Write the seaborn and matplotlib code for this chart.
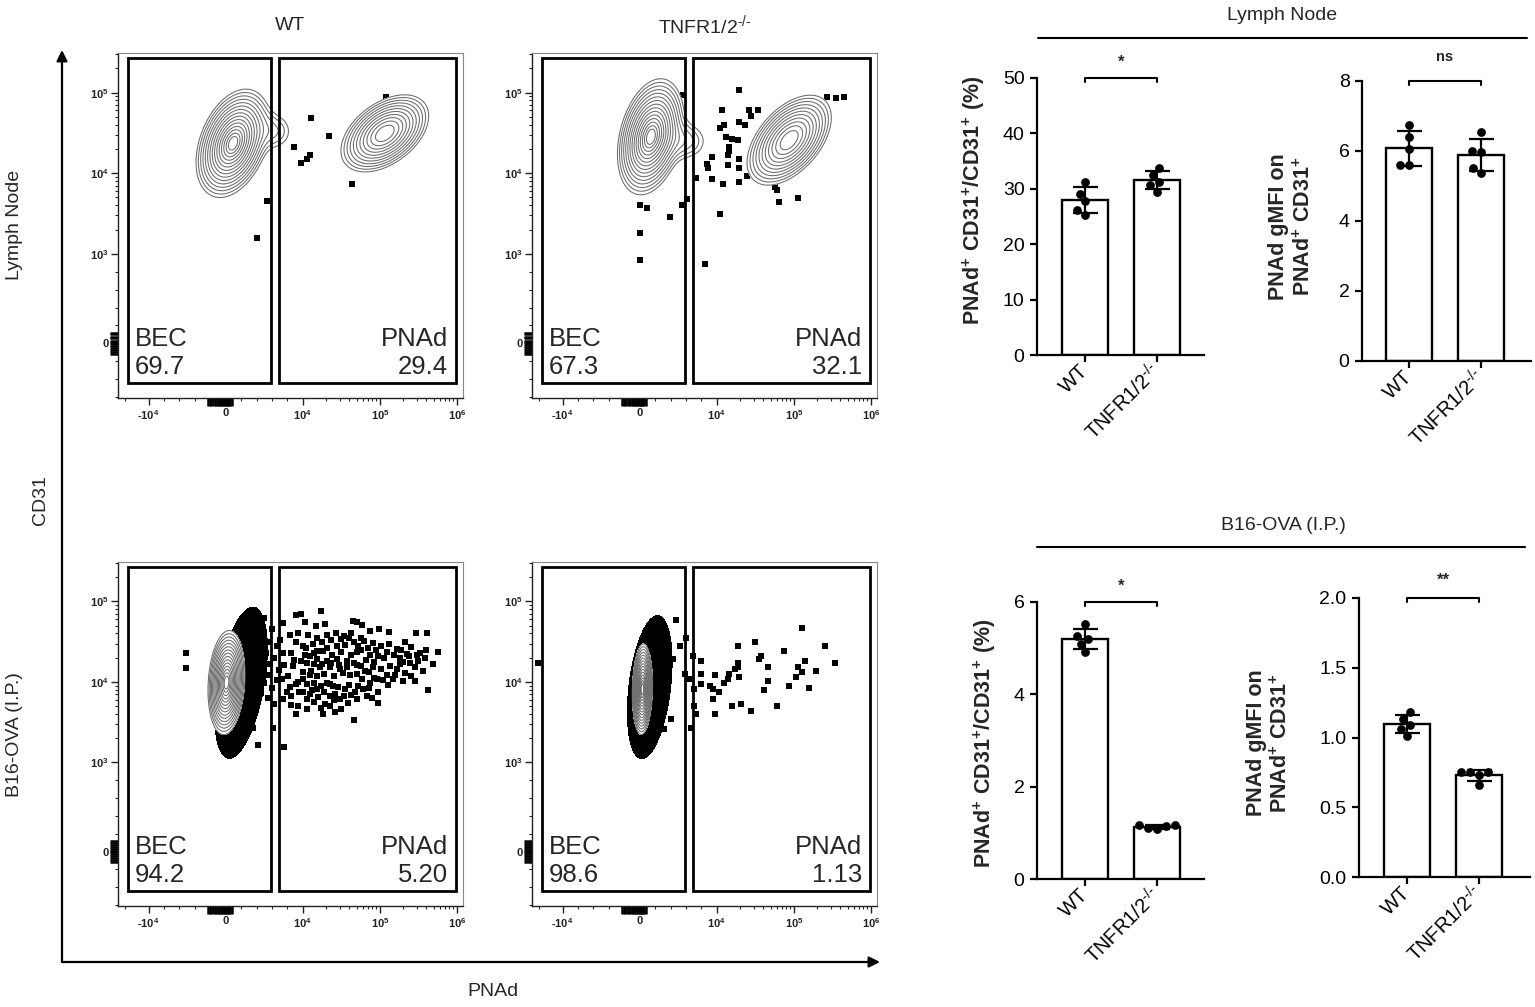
import numpy as np
import pandas as pd
import matplotlib
matplotlib.use("Agg")
import matplotlib.pyplot as plt
import seaborn as sns
from matplotlib.scale import SymmetricalLogTransform
from matplotlib.patches import Rectangle, FancyArrowPatch
from matplotlib.lines import Line2D
from matplotlib.ticker import FixedLocator

sns.set_theme(style="ticks")
plt.rcParams["font.family"] = ["Liberation Sans", "DejaVu Sans"]
plt.rcParams["mathtext.fontset"] = "custom"
plt.rcParams["mathtext.rm"] = "Liberation Sans"
plt.rcParams["mathtext.it"] = "Liberation Sans:italic"
plt.rcParams["mathtext.bf"] = "Liberation Sans:bold"
plt.rcParams["axes.unicode_minus"] = False

# ---------------------------------------------------------------- data
groups = ["WT", "TNFR1/2-/-"]
group_labels = ["WT", r"TNFR1/2$^{\text{-/-}}$"]

# bar charts (5 mice per group)
ln_pct_wt = [31.3, 29.1, 27.8, 26.2, 25.3]
ln_pct_ko = [33.7, 32.5, 31.3, 29.5, 30.6]
ln_mfi_wt = [6.75, 6.40, 6.05, 5.60, 5.60]
ln_mfi_ko = [6.55, 6.00, 5.97, 5.50, 5.38]
b16_pct_wt = [5.53, 5.26, 5.20, 5.09, 4.92]
b16_pct_ko = [1.10, 1.16, 1.15, 1.16, 1.08]
b16_mfi_wt = [1.18, 1.135, 1.09, 1.06, 1.01]
b16_mfi_ko = [0.75, 0.75, 0.75, 0.73, 0.66]

# gate percentages
ln_wt_gate = ["69.7", "29.4"]
ln_ko_gate = ["67.3", "32.1"]
b16_wt_gate = ["94.2", "5.20"]
b16_ko_gate = ["98.6", "1.13"]

# gates (PNAd range, CD31 range)
gate_bec_x = [-1.87e4, 5840]
gate_pnad_x = [6880, 9.7e5]
gate_y = [-447, 2.69e5]

# contour populations: (PNAd centre, CD31 centre, sd_x [decades], sd_y [decades], rho, weight)
ln_wt_pops = [(950, 2.35e4, 0.20, 0.28, 0.35, 1.00),
              (1.16e5, 3.12e4, 0.25, 0.21, 0.45, 0.75),
              (6500, 3.3e4, 0.15, 0.15, 0.0, 0.10)]
ln_ko_pops = [(1430, 2.83e4, 0.18, 0.30, 0.30, 1.00),
              (8.7e4, 2.57e4, 0.24, 0.245, 0.50, 0.75),
              (6000, 2.5e4, 0.18, 0.15, 0.0, 0.12)]
b16_wt_pops = [(100, 9.8e3, 0.10, 0.27, 0.15, 1.00)]
b16_ko_pops = [(350, 8.1e3, 0.055, 0.235, 0.10, 1.00)]
# dense outlier cloud around the contours: (PNAd, CD31, sd_x, sd_y, rho)
b16_wt_blob = (2000, 9.75e3, 0.17, 0.47, 0.45)
b16_ko_blob = (1300, 8.6e3, 0.145, 0.445, 0.35)

# outlier events, log10 intensities
ln_wt_pnad_log = [4.11, 4.34, 3.95, 3.99, 4.05, 4.09, 4.64, 5.08, 3.73, 3.61]
ln_wt_cd31_log = [4.69, 4.46, 4.32, 4.13, 4.18, 4.22, 3.86, 4.95, 3.66, 3.19]

ln_ko_pnad_log = [3.74, 4.07, 4.29, 4.04, 4.10, 4.12, 4.20, 4.16, 4.16, 4.15,
                  4.14, 4.29, 4.36, 4.42, 4.44, 4.53, 3.97, 3.94, 3.95, 3.97,
                  3.86, 4.08, 4.29, 4.29, 4.29, 4.39, 4.04, 3.93, 3.79, 3.74,
                  3.60, 2.98, 2.00, 2.00, 1.94, 4.75, 4.78, 4.81, 5.06, 5.43,
                  5.55, 5.65, 4.27]
ln_ko_cd31_log = [4.97, 4.78, 5.03, 4.56, 4.60, 4.45, 4.43, 4.33, 4.27, 4.22,
                  4.10, 4.64, 4.60, 4.78, 4.71, 4.78, 4.20, 4.11, 4.07, 3.93,
                  3.94, 3.86, 3.89, 4.06, 4.18, 3.96, 3.49, 2.95, 3.68, 3.61,
                  3.46, 3.57, 3.61, 3.26, 2.97, 3.83, 3.79, 3.64, 3.69, 4.94,
                  4.93, 4.94, 4.41]

b16_wt_pnad_log = [4.23, 3.96, 3.99, 4.03, 3.87, 4.17, 4.29, 4.65, 4.71, 4.77,
                   4.87, 4.99, 5.12, 5.47, 5.61, 3.92, 3.97, 4.07, 4.19, 4.31,
                   4.43, 4.53, 4.63, 4.76, 3.85, 3.96, 4.04, 4.19, 4.31, 4.44,
                   4.55, 4.66, 4.79, 4.91, 5.02, 5.22, 5.33, 5.41, 5.09, 5.76,
                   3.87, 4.09, 4.76, 4.87, 4.98, 5.48, 5.58, 3.88, 3.94, 3.99,
                   4.18, 4.31, 4.44, 4.57, 4.70, 4.91, 5.02, 5.13, 5.26, 5.39,
                   5.69, 5.35, 5.26, 4.11, 4.22, 4.35, 4.48, 4.61, 4.81, 5.22,
                   5.33, 5.46, 5.56, 3.91, 4.00, 3.96, 3.92, 4.31, 4.39, 4.87,
                   4.96, 5.09, 5.17, 5.30, 5.46, 3.86, 4.09, 4.18, 4.55, 4.68,
                   4.78, 4.83, 4.98, 5.63, 3.90, 3.87, 3.93, 3.98, 4.05, 4.20,
                   4.35, 4.48, 4.59, 4.70, 4.98, 4.35, 4.29, 3.97, 3.93, 4.50,
                   4.42, 4.26, 4.05, 3.96, 4.66, 3.79, 3.88, 3.55, 3.62,
                   4.00, 4.13, 4.25, 4.37, 4.49, 4.60, 4.72, 4.84, 4.95, 5.06,
                   3.93, 4.03, 4.14, 4.26, 4.38, 4.50, 4.62, 4.70, 4.82, 4.93,
                   3.95, 4.06, 4.15, 4.25, 4.36, 4.47, 4.58, 4.66, 4.76, 4.86,
                   4.00, 4.09, 4.19, 4.28, 4.40, 4.52, 4.70, 4.77, 4.92, 5.04,
                   3.97, 4.06, 4.14, 4.24, 4.35, 4.46, 4.60, 4.72, 4.86, 5.10,
                   4.00, 4.12, 4.27, 4.42, 4.53, 4.63, 4.90, 4.14, 4.40, 4.23,
                   5.18, 5.28, 5.38, 5.50, 5.20, 5.40, 5.52, 5.12, 5.30, 5.60,
                   3.62, 3.70, 3.78, 3.66, 3.74, 3.82, 3.64, 3.72, 3.80, 3.68,
                   3.76, 3.84, 3.66, 3.74, 3.82, 3.70, 3.78, 3.66, 3.74, 3.80,
                   3.58, 3.70]
b16_wt_cd31_log = [4.88, 4.83, 4.85, 4.75, 4.73, 4.69, 4.72, 4.76, 4.74, 4.71,
                   4.63, 4.66, 4.62, 4.61, 4.61, 4.58, 4.61, 4.58, 4.54, 4.58,
                   4.61, 4.57, 4.61, 4.54, 4.52, 4.49, 4.42, 4.39, 4.42, 4.44,
                   4.46, 4.49, 4.51, 4.48, 4.45, 4.41, 4.49, 4.43, 4.37, 4.37,
                   4.36, 4.32, 4.40, 4.34, 4.32, 4.33, 4.30, 4.21, 4.20, 4.26,
                   4.28, 4.26, 4.28, 4.26, 4.21, 4.18, 4.16, 4.20, 4.22, 4.24,
                   4.22, 4.35, 4.30, 4.14, 4.19, 4.18, 4.16, 4.08, 4.14, 4.16,
                   4.11, 4.18, 4.14, 4.07, 4.03, 3.97, 3.94, 3.99, 3.95, 3.99,
                   4.03, 4.08, 4.03, 4.01, 4.01, 4.03, 3.85, 3.91, 3.91, 3.87,
                   3.91, 3.82, 3.87, 3.90, 3.87, 3.79, 3.83, 3.87, 3.79, 3.81,
                   3.83, 3.79, 3.74, 3.79, 3.74, 3.70, 3.72, 3.70, 3.71, 3.66,
                   3.62, 3.60, 3.66, 3.60, 3.53, 3.42, 3.19, 3.43, 3.21,
                   4.45, 4.47, 4.50, 4.52, 4.53, 4.55, 4.45, 4.42, 4.40, 4.30,
                   4.36, 4.33, 4.36, 4.38, 4.34, 4.37, 4.33, 4.37, 4.27, 4.25,
                   4.27, 4.24, 4.22, 4.22, 4.23, 4.21, 4.19, 4.24, 4.20, 4.12,
                   4.12, 4.09, 4.07, 4.10, 4.07, 4.11, 4.10, 4.04, 4.05, 4.02,
                   4.00, 3.97, 3.99, 3.95, 3.97, 3.94, 3.96, 3.95, 3.92, 3.96,
                   3.88, 3.90, 3.87, 3.85, 3.82, 3.84, 3.80, 3.75, 3.77, 3.68,
                   4.34, 4.40, 4.32, 4.26, 4.09, 4.07, 4.36, 4.47, 4.25, 4.40,
                   4.70, 4.62, 4.66, 4.55, 4.50, 4.45, 4.42, 4.36, 4.30, 4.28,
                   4.22, 4.15, 4.15, 4.08, 4.02, 3.98, 3.92, 3.86, 3.80, 3.72,
                   4.78, 4.80]
b16_wt_neg_pnad = [-5200, -5200, -1700]
b16_wt_neg_cd31 = [2.3e4, 1.5e4, 1.2e4]

b16_ko_pnad_log = [3.67, 3.78, 3.72, 3.63, 3.84, 3.90, 3.90, 3.77, 3.81, 3.90,
                   3.85, 3.96, 3.99, 3.98, 4.03, 4.10, 4.14, 4.16, 4.23, 4.27,
                   4.27, 4.27, 4.29, 4.31, 4.20, 3.99, 3.98, 3.85, 3.86, 3.82,
                   3.61, 3.49, 4.49, 4.57, 4.55, 4.67, 4.61, 4.67, 4.44, 4.78,
                   4.87, 4.94, 5.03, 5.05, 5.11, 5.14, 5.11, 5.20, 5.29, 5.41,
                   5.53]
b16_ko_cd31_log = [4.77, 4.55, 4.45, 4.28, 4.32, 4.26, 4.10, 4.10, 4.03, 3.97,
                   3.91, 3.95, 4.08, 3.91, 3.87, 3.99, 4.03, 4.10, 4.16, 4.18,
                   4.45, 4.24, 4.06, 3.72, 3.70, 3.60, 3.79, 3.70, 3.60, 3.43,
                   3.54, 3.41, 4.50, 4.32, 4.28, 4.18, 3.90, 4.01, 3.64, 3.70,
                   4.39, 3.95, 4.06, 4.18, 4.67, 4.26, 4.12, 3.92, 4.14, 4.45,
                   4.23]
b16_ko_neg_pnad = [-2.1e4]
b16_ko_neg_cd31 = [1.7e4]

# events piled at zero (drawn as rugs on the axes)
rug_pnad = [-2300, -2100, -1850, -1700, -1450, -1250, -1050, -900, -700, -520,
            -420, -250, -100, 0, 150, 300, 380, 550, 800]
rug_cd31 = [-120, -95, -70, -55, -30, -10, 10, 30, 55, 75, 100, 120]

flow_xticks = [-1e4, 0, 1e4, 1e5, 1e6]
flow_xticklabels = [r"-$\mathbf{10^{4}}$", "0", r"$\mathbf{10^{4}}$", r"$\mathbf{10^{5}}$", r"$\mathbf{10^{6}}$"]
flow_yticks = [0, 1e3, 1e4, 1e5]
flow_yticklabels = ["0", r"$\mathbf{10^{3}}$", r"$\mathbf{10^{4}}$", r"$\mathbf{10^{5}}$"]
flow_xlim = (-2.5e4, 1.2e6)
flow_ylim = (-610, 3.1e5)

# ---------------------------------------------------------------- figure
W, H = 1535, 1007
fig = plt.figure(figsize=(W / 100, H / 100), dpi=100)
fig.patch.set_facecolor("white")


def rect(l, t, r, b):
    return [l / W, 1 - b / H, (r - l) / W, (b - t) / H]


LTX, LTY = 1e4, 1e3
tx = SymmetricalLogTransform(10, LTX, 0.9)
ty = SymmetricalLogTransform(10, LTY, 1.0)
u_grid = np.linspace(-1.45, 3.12, 520)
v_grid = np.linspace(-0.72, 3.66, 520)
Ug, Vg = np.meshgrid(u_grid, v_grid)
XX, YY = np.meshgrid(tx.inverted().transform(u_grid * LTX),
                     ty.inverted().transform(v_grid * LTY))
r_levels = np.linspace(0.3, 2.4, 15)
levels = np.sort(np.exp(-0.5 * r_levels ** 2))


def gauss(cx, cy, sx, sy, rho, w):
    cu = tx.transform(np.array([float(cx)]))[0] / LTX
    cv = ty.transform(np.array([float(cy)]))[0] / LTY
    du = (Ug - cu) / sx
    dv = (Vg - cv) / sy
    q = (du ** 2 - 2 * rho * du * dv + dv ** 2) / (1 - rho ** 2)
    return w * np.exp(-0.5 * q)


def flow_panel(px, pops, blob, xlog, ylog, negx, negy, gate_txt):
    ax = fig.add_axes(rect(*px))
    ax.set_xscale("symlog", linthresh=LTX, linscale=0.9)
    ax.set_yscale("symlog", linthresh=LTY, linscale=1.0)
    if blob is not None:
        zb = gauss(*blob, 1.0)
        ax.contourf(XX, YY, zb, levels=[np.exp(-2.0), 10], colors=["black"], zorder=1)
    xs = np.concatenate([10 ** np.array(xlog), np.array(negx, float)])
    ys = np.concatenate([10 ** np.array(ylog), np.array(negy, float)])
    sns.scatterplot(x=xs, y=ys, marker="s", s=16, color="black", linewidth=0,
                    ax=ax, zorder=2, legend=False)
    z = sum(gauss(*p) for p in pops)
    ax.contourf(XX, YY, z, levels=[levels[0], 10], colors=["white"], zorder=3)
    ax.contour(XX, YY, z, levels=levels, colors=["#6b6b6b"], linewidths=0.75, zorder=4)
    for gx in (gate_bec_x, gate_pnad_x):
        ax.add_patch(Rectangle((gx[0], gate_y[0]), gx[1] - gx[0], gate_y[1] - gate_y[0],
                               fill=False, ec="black", lw=2.0, zorder=5))
    ax.set_xlim(*flow_xlim)
    ax.set_ylim(*flow_ylim)
    ax.set_xticks(flow_xticks)
    ax.set_xticklabels(flow_xticklabels, fontsize=8, fontweight="bold", color="#222222")
    ax.set_yticks(flow_yticks)
    ax.set_yticklabels(flow_yticklabels, fontsize=8, fontweight="bold", color="#222222")
    xmin = [v for v in np.arange(-1e4, 1.01e4, 2000) if v not in (-1e4, 0, 1e4)]
    xmin += [-2e4] + [k * 10 ** d for d in (4, 5) for k in range(2, 10)]
    ymin = [v for v in np.arange(-600, 1000, 200) if v != 0]
    ymin += [k * 10 ** d for d in (3, 4) for k in range(2, 10)] + [2e5, 3e5]
    ax.xaxis.set_minor_locator(FixedLocator(xmin))
    ax.yaxis.set_minor_locator(FixedLocator(ymin))
    ax.tick_params(which="major", direction="out", length=5, width=1.0, pad=2, color="#222222")
    ax.tick_params(which="minor", direction="out", length=2.5, width=0.8, color="#222222")
    for s in ("left", "bottom"):
        ax.spines[s].set_linewidth(1.0)
        ax.spines[s].set_color("#222222")
    for s in ("top", "right"):
        ax.spines[s].set_linewidth(0.8)
        ax.spines[s].set_color("#888888")
    sns.rugplot(x=rug_pnad, ax=ax, height=-0.022, clip_on=False, color="black",
                linewidth=1.8, expand_margins=False)
    sns.rugplot(y=rug_cd31, ax=ax, height=-0.022, clip_on=False, color="black",
                linewidth=1.8, expand_margins=False)
    ax.set_xlabel("")
    ax.set_ylabel("")
    ax.text(0.05, 0.055, "BEC\n" + gate_txt[0], transform=ax.transAxes, ha="left",
            va="bottom", fontsize=18.5, linespacing=1.2, zorder=6)
    ax.text(0.957, 0.055, "PNAd\n" + gate_txt[1], transform=ax.transAxes, ha="right",
            va="bottom", fontsize=18.5, linespacing=1.2, multialignment="right", zorder=6)
    return ax


flow_panel((118, 53, 463, 398), ln_wt_pops, None, ln_wt_pnad_log, ln_wt_cd31_log, [], [], ln_wt_gate)
flow_panel((532, 53, 877, 398), ln_ko_pops, None, ln_ko_pnad_log, ln_ko_cd31_log, [], [], ln_ko_gate)
flow_panel((118, 562, 463, 906), b16_wt_pops, b16_wt_blob, b16_wt_pnad_log, b16_wt_cd31_log,
           b16_wt_neg_pnad, b16_wt_neg_cd31, b16_wt_gate)
flow_panel((532, 562, 877, 906), b16_ko_pops, b16_ko_blob, b16_ko_pnad_log, b16_ko_cd31_log,
           b16_ko_neg_pnad, b16_ko_neg_cd31, b16_ko_gate)


def bar_panel(px, wt, ko, ymax, yticks, yticklabels, ylabel, lab_pos, star, star_fs, star_dy, xlim):
    ax = fig.add_axes(rect(*px))
    df = pd.DataFrame({"group": [groups[0]] * len(wt) + [groups[1]] * len(ko),
                       "value": list(wt) + list(ko)})
    sns.barplot(data=df, x="group", y="value", order=groups, errorbar=None, color="white",
                saturation=1, edgecolor="black", linewidth=1.7, width=0.64, ax=ax, zorder=1)
    sns.swarmplot(data=df, x="group", y="value", order=groups, color="black", size=6.3,
                  ax=ax, zorder=2)
    stats = df.groupby("group")["value"].agg(["mean", "std"]).reindex(groups)
    ax.errorbar(np.arange(len(groups)), stats["mean"], yerr=stats["std"], fmt="none",
                ecolor="black", elinewidth=1.6, capsize=9, capthick=1.6, zorder=3)
    ax.set_xlim(*xlim)
    ax.set_ylim(0, ymax)
    ax.set_yticks(yticks)
    ax.set_yticklabels(yticklabels)
    ax.set_xticks(range(len(groups)))
    ax.set_xticklabels(group_labels, rotation=45, ha="right", va="center",
                       rotation_mode="anchor", fontsize=14.5)
    sns.despine(ax=ax)
    for s in ("left", "bottom"):
        ax.spines[s].set_linewidth(1.6)
        ax.spines[s].set_color("black")
    ax.tick_params(width=1.6, length=5, colors="black", pad=4)
    ax.tick_params(axis="y", labelsize=14)
    ax.set_xlabel("")
    ax.set_ylabel(ylabel, fontsize=15.5, fontweight="bold", linespacing=1.25)
    ax.yaxis.set_label_coords(*lab_pos)
    h = ymax * 0.016
    ax.plot([0, 0, 1, 1], [ymax - h, ymax, ymax, ymax - h], color="black", lw=1.5,
            clip_on=False)
    ax.text(0.5, ymax * (1 + star_dy), star, ha="center", va="center", fontsize=star_fs,
            fontweight="bold")
    return ax


lab1 = r"PNAd$^{\mathbf{+}}$ CD31$^{\mathbf{+}}$/CD31$^{\mathbf{+}}$ (%)"
lab2 = "PNAd gMFI on\n" + r"PNAd$^{\mathbf{+}}$ CD31$^{\mathbf{+}}$"

bar_panel((1037, 78, 1204, 355), ln_pct_wt, ln_pct_ko, 50, [0, 10, 20, 30, 40, 50],
          ["0", "10", "20", "30", "40", "50"], lab1, (-0.30, 0.56), "*", 12, 0.055,
          (-0.667, 1.653))
bar_panel((1362, 81, 1531, 361), ln_mfi_wt, ln_mfi_ko, 8, [0, 2, 4, 6, 8],
          ["0", "2", "4", "6", "8"], lab2, (-0.278, 0.48), "ns", 10.5, 0.085,
          (-0.653, 1.694))
bar_panel((1037, 602, 1204, 879), b16_pct_wt, b16_pct_ko, 6, [0, 2, 4, 6],
          ["0", "2", "4", "6"], lab1, (-0.233, 0.49), "*", 12, 0.055,
          (-0.667, 1.653))
bar_panel((1359, 598, 1530, 877), b16_mfi_wt, b16_mfi_ko, 2.0, [0, 0.5, 1.0, 1.5, 2.0],
          ["0.0", "0.5", "1.0", "1.5", "2.0"], lab2, (-0.39, 0.48), "**", 12, 0.065,
          (-0.667, 1.708))

# ---------------------------------------------------------------- annotations
fs = 14
fig.text(290 / W, 1 - 25 / H, "WT", ha="center", va="center", fontsize=fs)
fig.text(705 / W, 1 - 25 / H, r"TNFR1/2$^{\text{-/-}}$", ha="center", va="center", fontsize=fs)
fig.text(15 / W, 1 - 225 / H, "Lymph Node", rotation=90, ha="center", va="center", fontsize=fs)
fig.text(15 / W, 1 - 735 / H, "B16-OVA (I.P.)", rotation=90, ha="center", va="center", fontsize=fs)
fig.text(40 / W, 1 - 500 / H, "CD31", rotation=90, ha="center", va="center", fontsize=fs)
fig.text(493 / W, 1 - 992 / H, "PNAd", ha="center", va="center", fontsize=fs)

fig.text(1282 / W, 1 - 15 / H, "Lymph Node", ha="center", va="center", fontsize=fs)
fig.add_artist(Line2D([1038 / W, 1527 / W], [1 - 38 / H, 1 - 38 / H], color="black", lw=1.5))
fig.text(1283 / W, 1 - 525 / H, "B16-OVA (I.P.)", ha="center", va="center", fontsize=fs)
fig.add_artist(Line2D([1037 / W, 1525 / W], [1 - 547 / H, 1 - 547 / H], color="black", lw=1.5))

for end in ((62, 50), (880, 962)):
    fig.add_artist(FancyArrowPatch((62 / W, 1 - 962 / H), (end[0] / W, 1 - end[1] / H),
                                   transform=fig.transFigure, arrowstyle="-|>",
                                   mutation_scale=16, lw=1.6, color="black",
                                   shrinkA=0, shrinkB=0))

fig.savefig("out.png", dpi=100, facecolor="white")
